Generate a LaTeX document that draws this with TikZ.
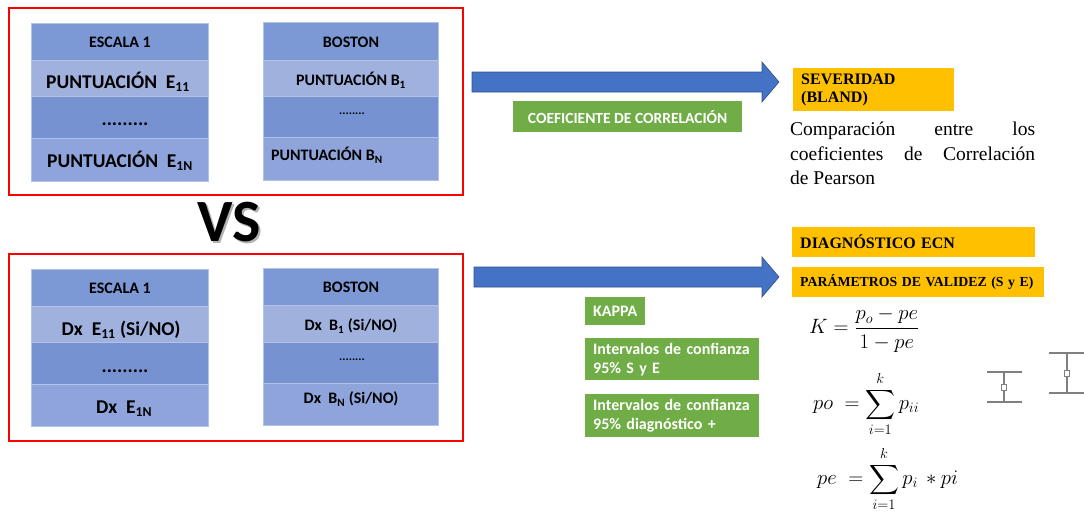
\documentclass[tikz,border=0pt]{standalone}
\usepackage{amsmath}
\usepackage{fontspec}
\setmainfont{Liberation Serif}
\newfontfamily\tms{Liberation Serif}
\newfontfamily\carl{Carlito}

\definecolor{hdrblue}{RGB}{125,153,213}
\definecolor{litblue}{RGB}{160,177,222}
\definecolor{midblue}{RGB}{119,146,208}
\definecolor{lowblue}{RGB}{142,164,218}
\definecolor{edgeblue}{RGB}{178,195,233}
\definecolor{arrowblue}{RGB}{68,114,196}
\definecolor{arrowedge}{RGB}{47,82,143}
\definecolor{okgreen}{RGB}{112,173,71}
\definecolor{gold}{RGB}{255,192,0}
\definecolor{framered}{RGB}{255,0,0}
\definecolor{bargray}{RGB}{128,128,128}

\newcommand{\fs}[1]{\fontsize{#1}{#1}\selectfont}
\newcommand{\fsb}[2]{\fontsize{#1}{#2}\selectfont}

\begin{document}
\begin{tikzpicture}[x=1pt,y=-1pt,
  redframe/.style={draw=framered, line width=1.6pt, inner sep=0, anchor=north west},
  rowbox/.style={draw=edgeblue, line width=0.8pt, inner sep=0, anchor=north west},
  hd/.style={font=\carl\bfseries\fs{16}, inner sep=0},
  bigtxt/.style={font=\carl\bfseries\fs{19.5}, inner sep=0},
  midtxt/.style={font=\carl\bfseries\fs{16}, inner sep=0},
  blockarrow/.style={fill=arrowblue, draw=arrowedge, line width=0.6pt},
  gbox/.style={fill=okgreen, text=white, font=\carl\bfseries\fsb{16}{19},
    inner xsep=8pt, inner ysep=0, anchor=north west, align=left},
  obox/.style={fill=gold, inner xsep=8pt, inner ysep=0,
    anchor=north west, align=left},
  errbar/.style={draw=bargray, line width=1.2pt},
  eq/.style={font=\fs{22}, inner sep=0, anchor=west}
]
\useasboundingbox (0,0) rectangle (1084,515);

% ---- frames ----
\node[redframe, minimum width=454pt, minimum height=187pt] (topframe) at (8,7) {};
\node[redframe, minimum width=454pt, minimum height=187pt] (botframe) at (8,253) {};

% ---- top left table: ESCALA 1 ----
\node[rowbox, fill=hdrblue, minimum width=177pt, minimum height=37pt] (ta0) at (31,23) {};
\node[rowbox, fill=litblue, minimum width=177pt, minimum height=36pt] (ta1) at (31,60) {};
\node[rowbox, fill=midblue, minimum width=177pt, minimum height=42pt] (ta2) at (31,96) {};
\node[rowbox, fill=lowblue, minimum width=177pt, minimum height=43pt] (ta3) at (31,138) {};
\node[hd] (ta0t) at (120,42) {ESCALA 1};
\node[bigtxt, anchor=west] (ta1t) at (46,82) {PUNTUACIÓN\ \ E\textsubscript{11}};
\node[bigtxt] (ta2t) at (125,124) {.........};
\node[bigtxt, anchor=west] (ta3t) at (47,161) {PUNTUACIÓN\ \ E\textsubscript{1N}};

% ---- top right table: BOSTON ----
\node[rowbox, fill=hdrblue, minimum width=175pt, minimum height=38pt] (tb0) at (263,22) {};
\node[rowbox, fill=litblue, minimum width=175pt, minimum height=36pt] (tb1) at (263,60) {};
\node[rowbox, fill=midblue, minimum width=175pt, minimum height=41pt] (tb2) at (263,96) {};
\node[rowbox, fill=lowblue, minimum width=175pt, minimum height=43pt] (tb3) at (263,137) {};
\node[hd] (tb0t) at (351,42) {BOSTON};
\node[midtxt] (tb1t) at (351,80) {PUNTUACIÓN B\textsubscript{1}};
\node[font=\carl\bfseries\fs{12}, inner sep=0] (tb2t) at (352,114) {........};
\node[midtxt, anchor=west] (tb3t) at (271,155) {PUNTUACIÓN B\textsubscript{N}};

% ---- bottom left table: ESCALA 1 ----
\node[rowbox, fill=hdrblue, minimum width=177pt, minimum height=37pt] (ba0) at (31,269) {};
\node[rowbox, fill=litblue, minimum width=177pt, minimum height=36pt] (ba1) at (31,306) {};
\node[rowbox, fill=midblue, minimum width=177pt, minimum height=42pt] (ba2) at (31,342) {};
\node[rowbox, fill=lowblue, minimum width=177pt, minimum height=42pt] (ba3) at (31,384) {};
\node[hd] (ba0t) at (120,288) {ESCALA 1};
\node[bigtxt] (ba1t) at (121,330) {Dx\ \ E\textsubscript{11} (Si/NO)};
\node[bigtxt] (ba2t) at (125,371) {.........};
\node[bigtxt] (ba3t) at (124,409) {Dx\ \ E\textsubscript{1N}};

% ---- bottom right table: BOSTON ----
\node[rowbox, fill=hdrblue, minimum width=175pt, minimum height=37pt] (bb0) at (263,268) {};
\node[rowbox, fill=litblue, minimum width=175pt, minimum height=37pt] (bb1) at (263,305) {};
\node[rowbox, fill=midblue, minimum width=175pt, minimum height=41pt] (bb2) at (263,342) {};
\node[rowbox, fill=lowblue, minimum width=175pt, minimum height=42pt] (bb3) at (263,383) {};
\node[hd] (bb0t) at (351,287) {BOSTON};
\node[midtxt] (bb1t) at (351,326) {Dx\ \ B\textsubscript{1} (Si/NO)};
\node[font=\carl\bfseries\fs{12}, inner sep=0] (bb2t) at (352,360) {........};
\node[midtxt] (bb3t) at (351,399) {Dx\ \ B\textsubscript{N} (Si/NO)};

% ---- VS with soft shadow ----
\node[font=\carl\bfseries\fs{60}, text=black!30, inner sep=0] (vsshadow) at (231.5,224.5) {VS};
\node[font=\carl\bfseries\fs{60}, inner sep=0] (vs) at (229,222) {VS};

% ---- block arrows ----
\path[blockarrow] (472,72) -- (762,72) -- (762,62) -- (779,82) -- (762,102)
  -- (762,92) -- (472,92) -- cycle;
\path[blockarrow] (474,267) -- (762,267) -- (762,257) -- (779,277) -- (762,297)
  -- (762,287) -- (474,287) -- cycle;

% ---- method boxes ----
\node[gbox, font=\carl\bfseries\fs{15.5}, minimum width=229pt, minimum height=31pt, align=center]
  (coef) at (513,101) {COEFICIENTE DE CORRELACIÓN};
\node[gbox, minimum height=28pt] (kappa) at (585,297) {KAPPA};
\node[gbox, text width=158pt, minimum height=42pt] (ic1) at (585,338)
  {Intervalos de confianza\\95\% S y E};
\node[gbox, text width=158pt, minimum height=43pt] (ic2) at (585,394)
  {Intervalos de confianza\\95\% diagnóstico +};

% ---- outcome boxes ----
\node[obox, font=\tms\bfseries\fsb{16}{18}, text width=145pt, minimum height=43pt]
  (sev) at (793,68) {SEVERIDAD\\(BLAND)};
\node[obox, font=\tms\bfseries\fs{16}, text width=227pt, minimum height=30pt]
  (diag) at (792,227) {DIAGNÓSTICO ECN};
\node[obox, font=\tms\bfseries\fs{13.8}, text width=236pt, minimum height=30pt]
  (param) at (792,267) {\mbox{PARÁMETROS DE VALIDEZ (S y E)}};

% ---- description ----
\node[font=\tms\fsb{19.5}{24.5}, inner sep=0, anchor=north west, align=left]
  (desc) at (790,122)
  {\makebox[245pt][s]{Comparación entre los}\\
   \makebox[245pt][s]{coeficientes de Correlación}\\
   de Pearson};

% ---- formulas ----
\node[eq] (kfor) at (809,330) {$K = \dfrac{p_o - pe}{1 - pe}$};
\node[eq] (pofor) at (813,404) {$\displaystyle po \;= \sum_{i=1}^{k} p_{ii}$};
\node[eq] (pefor) at (817,479) {$\displaystyle pe \;= \sum_{i=1}^{k} p_{i} \,* pi$};

% ---- error bar glyphs ----
\coordinate (s1) at (987,372); \coordinate (s2) at (1022,372);
\coordinate (s3) at (987,402); \coordinate (s4) at (1022,402);
\path[errbar] (s1) -- (s2) (s3) -- (s4) (1004,372) -- (1004,402);
\path[errbar, fill=white, line width=0.9pt] (1001.5,384) rectangle (1006.5,390);
\coordinate (l1) at (1049,353); \coordinate (l2) at (1084,353);
\coordinate (l3) at (1049,393); \coordinate (l4) at (1084,393);
\path[errbar] (l1) -- (l2) (l3) -- (l4) (1067,353) -- (1067,393);
\path[errbar, fill=white, line width=0.9pt] (1064.5,370) rectangle (1069.5,376);
\end{tikzpicture}
\end{document}
